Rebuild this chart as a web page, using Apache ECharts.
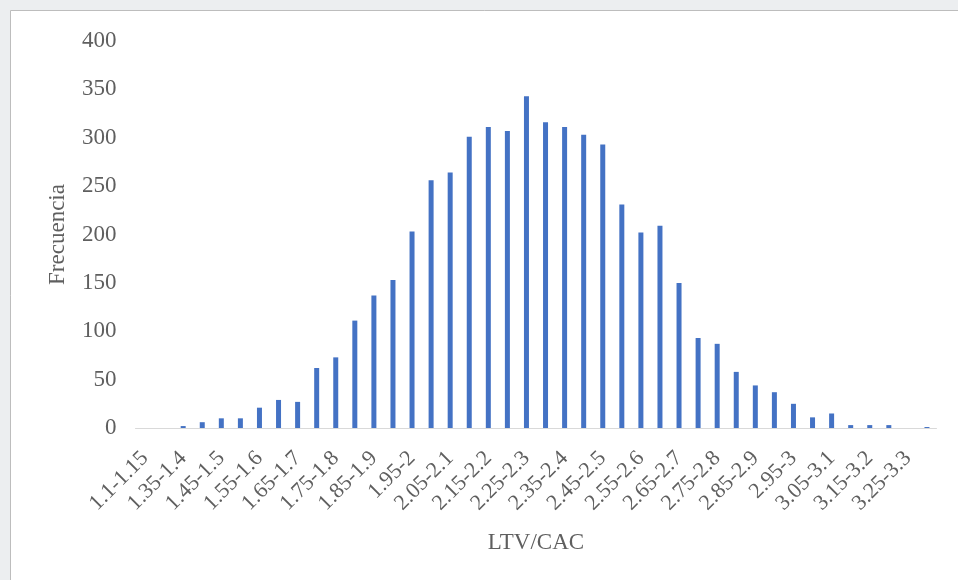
<!DOCTYPE html>
<html>
<head>
<meta charset="utf-8">
<script src="https://cdn.jsdelivr.net/npm/echarts@6/dist/echarts.min.js"></script>
<style>
  html, body { margin: 0; padding: 0; background: #eceef0; }
  #chart { width: 958px; height: 580px; }
</style>
</head>
<body>
<div id="chart"></div>
<script>
// LTV/CAC bins (every other label shown on the axis)
const categories = [
  '1.1-1.15', '1.3-1.35', '1.35-1.4', '1.4-1.45', '1.45-1.5', '1.5-1.55', '1.55-1.6', '1.6-1.65',
  '1.65-1.7', '1.7-1.75', '1.75-1.8', '1.8-1.85', '1.85-1.9', '1.9-1.95', '1.95-2', '2-2.05',
  '2.05-2.1', '2.1-2.15', '2.15-2.2', '2.2-2.25', '2.25-2.3', '2.3-2.35', '2.35-2.4', '2.4-2.45',
  '2.45-2.5', '2.5-2.55', '2.55-2.6', '2.6-2.65', '2.65-2.7', '2.7-2.75', '2.75-2.8', '2.8-2.85',
  '2.85-2.9', '2.9-2.95', '2.95-3', '3-3.05', '3.05-3.1', '3.1-3.15', '3.15-3.2', '3.2-3.25',
  '3.25-3.3', '3.3-3.35'
];
const frecuencia = [
  0, 0, 2, 6, 10, 10, 21, 29,
  27, 62, 73, 111, 137, 153, 203, 256,
  264, 301, 311, 307, 343, 316, 311, 303,
  293, 231, 202, 209, 150, 93, 87, 58,
  44, 37, 25, 11, 15, 3, 3, 3,
  0, 1
];
const yTicks = [0, 400, 50]; // min, max, step

var chart = echarts.init(document.getElementById('chart'));

const serif = '"Liberation Serif", "DejaVu Serif", serif';
const textColor = '#5f5f5f';

var option = {
  backgroundColor: 'transparent',
  animation: false,
  graphic: [{
    type: 'rect',
    z: -10,
    shape: { x: 10.5, y: 10.5, width: 960, height: 580 },
    style: { fill: '#ffffff', stroke: '#bdbdbd', lineWidth: 1 }
  }],
  grid: { left: 135.5, right: 21.5, top: 41, bottom: 152 },
  xAxis: {
    type: 'category',
    data: categories,
    name: 'LTV/CAC',
    nameLocation: 'middle',
    nameGap: 103,
    nameTextStyle: { fontFamily: serif, fontSize: 23, color: textColor },
    axisLine: { show: true, lineStyle: { color: '#d9d9d9' } },
    axisTick: { show: false },
    axisLabel: {
      interval: 1,
      rotate: 45,
      margin: 27,
      fontFamily: serif,
      fontSize: 22,
      color: textColor
    }
  },
  yAxis: {
    type: 'value',
    min: yTicks[0],
    max: yTicks[1],
    interval: yTicks[2],
    name: 'Frecuencia',
    nameLocation: 'middle',
    nameGap: 66,
    nameTextStyle: { fontFamily: serif, fontSize: 23, color: textColor },
    axisLine: { show: false },
    axisTick: { show: false },
    splitLine: { show: false },
    axisLabel: { margin: 19, fontFamily: serif, fontSize: 23, color: textColor }
  },
  series: [{
    type: 'bar',
    data: frecuencia,
    barWidth: 5,
    itemStyle: { color: '#4472c4' }
  }]
};

chart.setOption(option);
</script>
</body>
</html>
